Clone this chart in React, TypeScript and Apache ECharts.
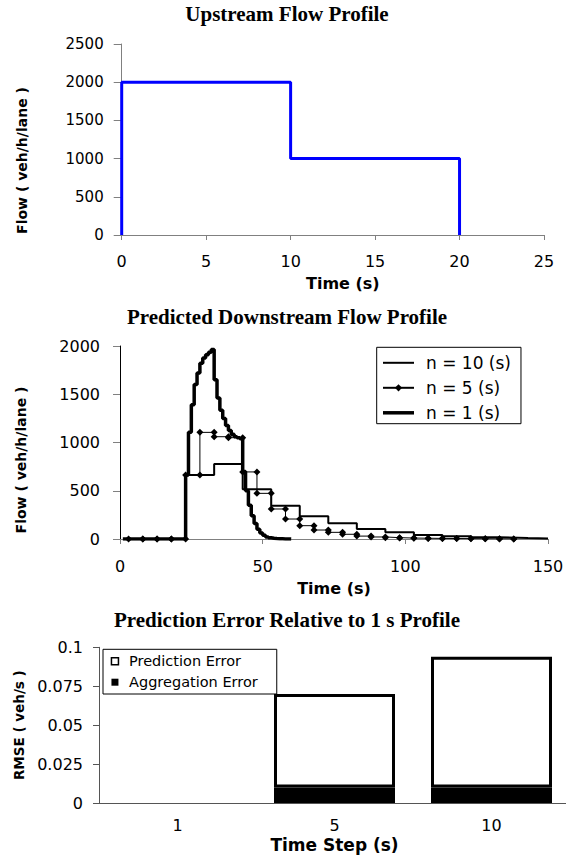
import React, { useEffect, useRef } from "react";
import * as echarts from "echarts";

// ---------- Upstream flow profile ----------
const upTimes = [0, 0, 10, 10, 20, 20];
const upFlow = [0, 2000, 2000, 1000, 1000, 0];
const upTimeTicks = [0, 5, 10, 15, 20, 25];
const upFlowTicks = [0, 500, 1000, 1500, 2000, 2500];

// ---------- Predicted downstream flow profile ----------
const n10Times = [3, 23, 33, 43, 53, 63, 73, 83, 93, 103, 113, 123, 133, 143, 150];
const n10Flow = [0, 663, 777, 515, 345, 235, 163, 104, 69, 41, 28, 17, 10, 6, 6];

const n5Times = [3, 8, 13, 18, 23, 28, 33, 38, 43, 48, 53, 58, 63, 68, 73, 78, 83, 88, 93, 98, 103, 108, 113, 118, 123, 128, 133, 138];
const n5Flow = [0, 0, 0, 0, 663, 1105, 1060, 1050, 695, 473, 311, 207, 138, 93, 69, 49, 30, 21, 14, 10, 8, 6, 5, 4, 3, 2, 1, 1];

const n1Times = [1, 23, 24, 25, 26, 27, 28, 29, 30, 31, 32, 33, 34, 35, 36, 37, 38, 39, 40, 41, 42, 43, 44, 45, 46, 47, 48, 49, 50, 51, 52, 53, 54, 55, 56, 57, 58, 59, 60];
const n1Flow = [0, 663, 1105, 1390, 1600, 1720, 1820, 1875, 1910, 1935, 1965, 1650, 1460, 1335, 1250, 1175, 1125, 1085, 1060, 1048, 1040, 700, 500, 350, 240, 160, 100, 62, 38, 22, 13, 8, 5, 3, 2, 1, 1, 0, 0];

const downTimeTicks = [0, 50, 100, 150];
const downFlowTicks = [0, 500, 1000, 1500, 2000];

// ---------- Prediction error ----------
const stepLabels = ["1", "5", "10"];
const aggregationError = [0, 0.01, 0.01];
const predictionError = [0, 0.06, 0.084];
const rmseTicks = [0, 0.025, 0.05, 0.075, 0.1];

const SANS = "DejaVu Sans";
const SERIF = "Liberation Serif";

function pairs(xs: number[], ys: number[]) {
  return xs.map((x, i) => [x, ys[i]]);
}

// step polyline with a point at both ends of each vertical jump (Excel style)
function stepPoints(xs: number[], ys: number[]) {
  const pts: number[][] = [];
  xs.forEach((x, i) => {
    if (i > 0) pts.push([x, ys[i - 1]]);
    pts.push([x, ys[i]]);
  });
  return pts;
}

function axisRange(ticks: number[]) {
  return { min: ticks[0], max: ticks[ticks.length - 1], interval: ticks[1] - ticks[0] };
}

const plain = (v: number) => String(v);

export default function App() {
  const ref = useRef<HTMLDivElement>(null);

  useEffect(() => {
    if (!ref.current) return;
    const chart = echarts.init(ref.current, undefined, { renderer: "svg" });

    const titleStyle = { fontFamily: SERIF, fontWeight: "bold", fontSize: 21, color: "#000" };
    const labelStyle = (size: number, margin: number, fmt?: boolean) => ({
      fontFamily: SANS,
      fontSize: size,
      color: "#000",
      margin,
      ...(fmt ? { formatter: plain } : {}),
    });
    const nameStyle = (size: number, padding?: number[]) => ({
      fontFamily: SANS,
      fontWeight: "bold",
      fontSize: size,
      color: "#000",
      ...(padding ? { padding } : {}),
    });

    const option: any = {
      animation: false,
      backgroundColor: "#fff",
      title: [
        { text: "Upstream Flow Profile", left: 287, top: 3, textAlign: "center", padding: 0, textStyle: titleStyle },
        { text: "Predicted Downstream Flow Profile", left: 287, top: 306, textAlign: "center", padding: 0, textStyle: titleStyle },
        { text: "Prediction Error Relative to 1 s Profile", left: 287, top: 609.5, textAlign: "center", padding: 0, textStyle: titleStyle },
      ],
      legend: [
        {
          data: [
            { name: "n = 10 (s)", icon: "path://M0,0L62,0L62,4L0,4Z" },
            { name: "n = 5 (s)" },
            { name: "n = 1 (s)", icon: "path://M0,0L62,0L62,7L0,7Z" },
          ],
          orient: "vertical",
          left: 376.7,
          top: 347.3,
          padding: [7, 10, 2.4, 5.3],
          itemWidth: 31,
          itemHeight: 9,
          itemGap: 8,
          symbolKeepAspect: true,
          borderColor: "#000",
          borderWidth: 1,
          backgroundColor: "#fff",
          textStyle: { fontFamily: SANS, fontSize: 17, lineHeight: 16, color: "#000", padding: [0, 0, 0, 7] },
        },
        {
          data: [
            { name: "Prediction Error", itemStyle: { color: "#fff", borderColor: "#000", borderWidth: 1.5 } },
            { name: "Aggregation Error", itemStyle: { color: "#000", borderColor: "#000", borderWidth: 0 } },
          ],
          orient: "vertical",
          left: 103,
          top: 649.3,
          padding: [4.4, 19, 4.3, 7.7],
          itemWidth: 7,
          itemHeight: 7,
          itemGap: 6,
          icon: "rect",
          borderColor: "#000",
          borderWidth: 1,
          backgroundColor: "#fff",
          textStyle: { fontFamily: SANS, fontSize: 14.5, lineHeight: 14, color: "#000", padding: [0, 0, 0, 5.6] },
        },
      ],
      grid: [
        { left: 121.7, top: 44, width: 422.3, height: 191, outerBoundsMode: "none" },
        { left: 120, top: 346, width: 428, height: 193, outerBoundsMode: "none" },
        { left: 99, top: 647.3, width: 471, height: 155.7, outerBoundsMode: "none" },
      ],
      xAxis: [
        {
          gridIndex: 0,
          type: "value",
          ...axisRange(upTimeTicks),
          axisLine: { lineStyle: { color: "#808080", width: 1 } },
          axisTick: { length: 5, lineStyle: { color: "#808080" } },
          splitLine: { show: false },
          axisLabel: labelStyle(16, 18, true),
          name: "Time (s)",
          nameLocation: "middle",
          nameGap: 40,
          nameTextStyle: nameStyle(16, [0, 0, 0, 20]),
        },
        {
          gridIndex: 1,
          type: "value",
          ...axisRange(downTimeTicks),
          axisLine: { lineStyle: { color: "#808080", width: 1 } },
          axisTick: { length: 5, lineStyle: { color: "#808080" } },
          splitLine: { show: false },
          axisLabel: labelStyle(16, 19, true),
          name: "Time (s)",
          nameLocation: "middle",
          nameGap: 41,
          nameTextStyle: nameStyle(16),
        },
        {
          gridIndex: 2,
          type: "category",
          data: stepLabels,
          axisLine: { lineStyle: { color: "#555", width: 1 } },
          axisTick: { length: 5, alignWithLabel: false, lineStyle: { color: "#555" } },
          splitLine: { show: false },
          axisLabel: labelStyle(16, 14),
          name: "Time Step (s)",
          nameLocation: "middle",
          nameGap: 33,
          nameTextStyle: nameStyle(17),
        },
      ],
      yAxis: [
        {
          gridIndex: 0,
          type: "value",
          ...axisRange(upFlowTicks),
          axisLine: { show: true, lineStyle: { color: "#808080", width: 1 } },
          axisTick: { show: true, length: 8, lineStyle: { color: "#808080" } },
          splitLine: { show: false },
          axisLabel: labelStyle(15, 18, true),
          name: "Flow ( veh/h/lane )",
          nameLocation: "middle",
          nameRotate: 90,
          nameGap: 93,
          nameTextStyle: nameStyle(14, [0, 42, 0, 0]),
        },
        {
          gridIndex: 1,
          type: "value",
          ...axisRange(downFlowTicks),
          axisLine: { show: true, lineStyle: { color: "#000", width: 1 } },
          axisTick: { show: true, length: 7, lineStyle: { color: "#808080" } },
          splitLine: { show: false },
          axisLabel: labelStyle(16, 20, true),
          name: "Flow ( veh/h/lane )",
          nameLocation: "middle",
          nameRotate: 90,
          nameGap: 92,
          nameTextStyle: nameStyle(14, [0, 35, 0, 0]),
        },
        {
          gridIndex: 2,
          type: "value",
          ...axisRange(rmseTicks),
          axisLine: { show: true, lineStyle: { color: "#555", width: 1 } },
          axisTick: { show: true, length: 6, lineStyle: { color: "#555" } },
          splitLine: { show: false },
          axisLabel: labelStyle(16, 16, true),
          name: "RMSE ( veh/s )",
          nameLocation: "middle",
          nameRotate: 90,
          nameGap: 73,
          nameTextStyle: nameStyle(13.5),
        },
      ],
      series: [
        {
          name: "Upstream",
          type: "line",
          xAxisIndex: 0,
          yAxisIndex: 0,
          data: pairs(upTimes, upFlow),
          symbol: "none",
          lineStyle: { color: "#0000ff", width: 3 },
          itemStyle: { color: "#0000ff" },
        },
        {
          name: "n = 10 (s)",
          type: "line",
          xAxisIndex: 1,
          yAxisIndex: 1,
          step: "end",
          data: pairs(n10Times, n10Flow),
          symbol: "none",
          lineStyle: { color: "#000", width: 2 },
          itemStyle: { color: "#000" },
        },
        {
          name: "n = 5 (s)",
          type: "line",
          xAxisIndex: 1,
          yAxisIndex: 1,
          data: stepPoints(n5Times, n5Flow),
          symbol: "diamond",
          symbolSize: 7,
          showSymbol: true,
          showAllSymbol: true,
          lineStyle: { color: "#000", width: 1 },
          itemStyle: { color: "#000" },
        },
        {
          name: "n = 1 (s)",
          type: "line",
          xAxisIndex: 1,
          yAxisIndex: 1,
          step: "end",
          data: pairs(n1Times, n1Flow),
          symbol: "none",
          lineStyle: { color: "#000", width: 3.5 },
          itemStyle: { color: "#000" },
        },
        {
          name: "Aggregation Error",
          type: "bar",
          xAxisIndex: 2,
          yAxisIndex: 2,
          stack: "err",
          barWidth: 121,
          data: aggregationError.map((v) => (v === 0 ? { value: v, itemStyle: { borderWidth: 0 } } : v)),
          itemStyle: { color: "#000", borderColor: "#000", borderWidth: 3 },
        },
        {
          name: "Prediction Error",
          type: "bar",
          xAxisIndex: 2,
          yAxisIndex: 2,
          stack: "err",
          barWidth: 121,
          data: predictionError.map((v) => (v === 0 ? { value: v, itemStyle: { borderWidth: 0 } } : v)),
          itemStyle: { color: "#fff", borderColor: "#000", borderWidth: 3 },
        },
      ],
    };

    chart.setOption(option);
    return () => chart.dispose();
  }, []);

  return (
    <div
      ref={ref}
      style={{ position: "absolute", left: 0, top: 0, width: 566, height: 857, background: "#fff" }}
    />
  );
}
